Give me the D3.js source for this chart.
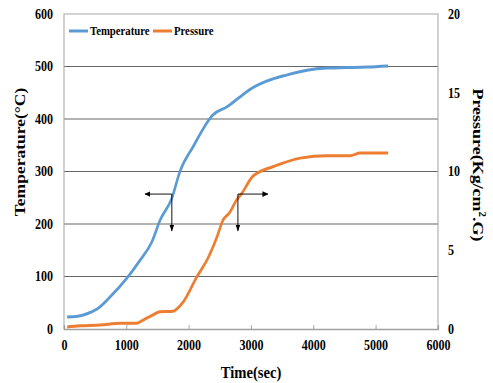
<!DOCTYPE html>
<html><head><meta charset="utf-8">
<script src="https://cdn.jsdelivr.net/npm/d3@7"></script>
<style>body{margin:0;background:#fff}svg{display:block}text{font-family:"Liberation Serif","Times New Roman",serif;font-weight:bold;fill:#000}</style>
</head><body><svg id="c" width="493" height="383"></svg>
<script>
const tempTime = [50,200,370,530,740,1010,1220,1410,1540,1730,1860,2070,2390,2610,2800,2980,3250,3580,3900,4220,4540,4860,5200];
const temperature = [23,24,29,38,61,97,131,166,207,249,300,347,408,423,440,456,472,484,493,497,498,499,501];
const presTime = [50,260,580,900,1170,1270,1430,1540,1750,1910,2130,2310,2450,2550,2660,2770,2850,3030,3100,3350,3790,4220,4590,4750,5200];
const pressure = [0.13,0.2,0.25,0.37,0.37,0.57,0.9,1.1,1.13,1.7,3.3,4.5,5.8,6.9,7.4,8.2,8.6,9.7,9.9,10.3,10.85,11.0,11.0,11.17,11.17];
const xTicks = [0,1000,2000,3000,4000,5000,6000];
const yTicks = [0,100,200,300,400,500,600];
const y2Ticks = [0,5,10,15,20];
// annotation arrows: corner point, horizontal end time, vertical end temperature
const arrowCorners = [[1730,257],[2790,257]];
const arrowHEnds = [1300,3270];
const arrowVEnds = [187,187];

const sx = 0.86; // condensed look of the original
const svg = d3.select("#c");
const defs = svg.append("defs");
defs.append("marker").attr("id","ah").attr("viewBox","0 0 10 10").attr("refX",9).attr("refY",5)
  .attr("markerWidth",7).attr("markerHeight",7).attr("orient","auto-start-reverse")
  .append("path").attr("d","M0,1L10,5L0,9Z").attr("fill","#000");
const g = svg.append("g").attr("transform",`scale(${sx},1)`);
const L=64,R=438,T=14,B=329;
const x = d3.scaleLinear().domain([0,6000]).range([L/sx,R/sx]);
const y = d3.scaleLinear().domain([0,600]).range([B,T]);
const y2 = d3.scaleLinear().domain([0,20]).range([B,T]);

// gridlines
g.selectAll(".grid").data(yTicks.filter(d=>d>0&&d<600)).join("line")
  .attr("x1",x(0)).attr("x2",x(6000)).attr("y1",d=>y(d)).attr("y2",d=>y(d))
  .attr("stroke","#5a5a5a").attr("stroke-width",1);
// frame
g.append("path").attr("d",`M${x(0)},${B}V${T}H${x(6000)}V${B}`).attr("fill","none").attr("stroke","#a6a6a6").attr("stroke-width",1.2);
// bottom axis
const xa = g.append("g").attr("transform",`translate(0,${B})`)
  .call(d3.axisBottom(x).tickValues(xTicks).tickSize(-4).tickPadding(10).tickFormat(d3.format("d")));
xa.select(".domain").attr("stroke","#a0a0a0").attr("stroke-width",1.6);
xa.selectAll(".tick line").attr("stroke","#a0a0a0");
xa.selectAll("text").attr("font-size",14).attr("font-family","Liberation Serif").attr("font-weight","bold").attr("dy","0.75em").attr("y",11);
// left axis
const ya = g.append("g").attr("transform",`translate(${x(0)},0)`)
  .call(d3.axisLeft(y).tickValues(yTicks).tickSize(0).tickPadding(11/sx));
ya.select(".domain").remove();
ya.selectAll("text").attr("font-size",14).attr("font-family","Liberation Serif").attr("font-weight","bold");
// right axis
const ya2 = g.append("g").attr("transform",`translate(${x(6000)},0)`)
  .call(d3.axisRight(y2).tickValues(y2Ticks).tickSize(0).tickPadding(10/sx));
ya2.select(".domain").remove();
ya2.selectAll("text").attr("font-size",14).attr("font-family","Liberation Serif").attr("font-weight","bold");

// lines
const lineT = d3.line().x((d,i)=>x(tempTime[i])).y(d=>y(d)).curve(d3.curveMonotoneX);
const lineP = d3.line().x((d,i)=>x(presTime[i])).y(d=>y2(d)).curve(d3.curveMonotoneX);
g.append("path").datum(temperature).attr("d",lineT).attr("fill","none").attr("stroke","#5b9bd5").attr("stroke-width",3).attr("stroke-linejoin","round");
g.append("path").datum(pressure).attr("d",lineP).attr("fill","none").attr("stroke","#ed7d31").attr("stroke-width",3).attr("stroke-linejoin","round");

// arrows
arrowCorners.forEach((c,i)=>{
  g.append("line").attr("x1",x(c[0])).attr("y1",y(c[1])).attr("x2",x(arrowHEnds[i])).attr("y2",y(c[1]))
    .attr("stroke","#000").attr("stroke-width",1).attr("marker-end","url(#ah)");
  g.append("line").attr("x1",x(c[0])).attr("y1",y(c[1])).attr("x2",x(c[0])).attr("y2",y(arrowVEnds[i]))
    .attr("stroke","#000").attr("stroke-width",1).attr("marker-end","url(#ah)");
});

// legend
const leg = [{n:"Temperature",c:"#5b9bd5",x1:69,x2:88,tx:90},{n:"Pressure",c:"#ed7d31",x1:153,x2:172,tx:174}];
leg.forEach(d=>{
  g.append("line").attr("x1",d.x1/sx).attr("x2",d.x2/sx).attr("y1",31).attr("y2",31).attr("stroke",d.c).attr("stroke-width",3);
  g.append("text").attr("x",d.tx/sx).attr("y",35.5).attr("font-size",12.5).text(d.n);
});

// titles
g.append("text").attr("transform",`translate(${25/sx},152) rotate(-90)`).attr("text-anchor","middle").attr("font-size",17.5).text("Temperature(°C)");
const rt = g.append("text").attr("transform",`translate(${473/sx},165) rotate(90)`).attr("text-anchor","middle").attr("font-size",18);
rt.append("tspan").text("Pressure(Kg/cm");
rt.append("tspan").attr("font-size",11).attr("dy",-7).text("2");
rt.append("tspan").attr("dy",7).text(".G)");
g.append("text").attr("x",x(3000)).attr("y",378).attr("text-anchor","middle").attr("font-size",17).text("Time(sec)");
</script></body></html>
